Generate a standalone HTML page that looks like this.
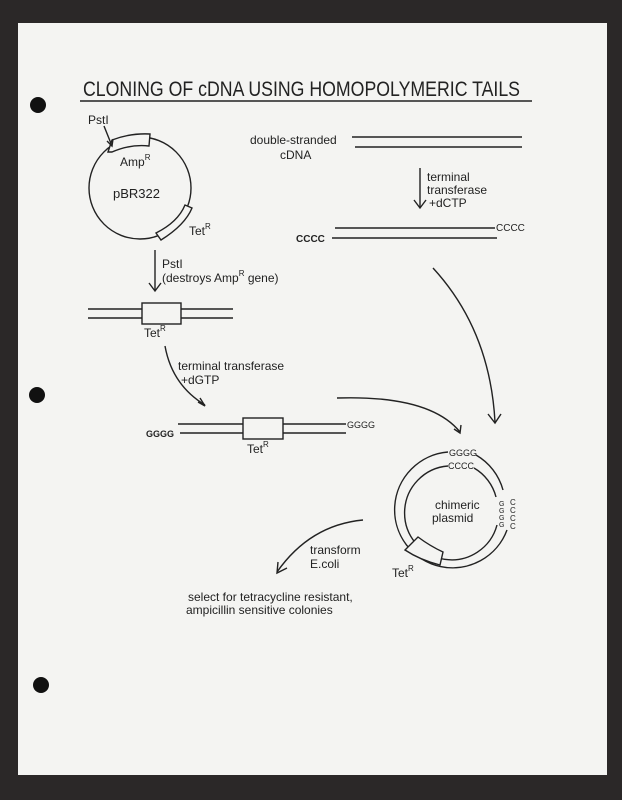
<!DOCTYPE html>
<html><head><meta charset="utf-8"><style>
html,body{margin:0;padding:0;background:#2b2828;}
svg{display:block}
text{font-family:"Liberation Sans",sans-serif;fill:#222;}
</style></head><body>
<svg width="622" height="800" viewBox="0 0 622 800" xmlns="http://www.w3.org/2000/svg">
<rect x="0" y="0" width="622" height="800" fill="#2b2828"/>
<rect x="18" y="23" width="589" height="752" fill="#f4f4f2"/>
<circle cx="38" cy="105" r="8" fill="#111"/>
<circle cx="37" cy="395" r="8" fill="#111"/>
<circle cx="41" cy="685" r="8" fill="#111"/>
<g stroke="#222" fill="none" stroke-width="1.4">
<text x="83" y="96" font-size="21" textLength="437" lengthAdjust="spacingAndGlyphs" stroke="none" style="font-weight:300">CLONING OF cDNA USING HOMOPOLYMERIC TAILS</text>
<line x1="80" y1="101" x2="532" y2="101"/>
<!-- pBR322 -->
<ellipse cx="140" cy="188" rx="51" ry="51"/>
<path d="M108,152 L112,140 Q130,133 150,134 L149,146 Q130,144 112,152 Z" fill="#f4f4f2"/>
<path d="M156,233 L161,240 Q185,225 192,208 L185,205 Q178,222 156,233 Z" fill="#f4f4f2"/>
<line x1="104" y1="126" x2="112" y2="146"/>
<path d="M107,141 L112,146 L113,139"/>
<!-- cDNA -->
<line x1="352" y1="137" x2="522" y2="137"/>
<line x1="355" y1="147" x2="522" y2="147"/>
<line x1="420" y1="168" x2="420" y2="207"/>
<path d="M414,200 L420,208 L426,200"/>
<line x1="335" y1="228" x2="495" y2="228"/>
<line x1="332" y1="238" x2="497" y2="238"/>
<path d="M433,268 Q490,330 495,422"/>
<path d="M488,414 L495,423 L501,414"/>
<!-- PstI arrow -->
<line x1="155" y1="250" x2="155" y2="290"/>
<path d="M149,283 L155,291 L161,283"/>
<line x1="88" y1="309" x2="233" y2="309"/>
<line x1="88" y1="318" x2="233" y2="318"/>
<rect x="142" y="303" width="39" height="21" fill="#f4f4f2"/>
<path d="M165,346 Q172,385 205,405"/>
<path d="M198,402 L205,406 L200,398"/>
<line x1="178" y1="424" x2="346" y2="424"/>
<line x1="180" y1="433" x2="346" y2="433"/>
<rect x="243" y="418" width="40" height="21" fill="#f4f4f2"/>
<path d="M337,398 Q430,395 460,432"/>
<path d="M454,429 L460,433 L461,425"/>
<!-- chimeric -->
<path d="M448,452 A58,58 0 1 0 507,530 M503,490 A58,58 0 0 0 476,455"/>
<path d="M448,466 A47,47 0 1 0 497,525 M496,497 A47,47 0 0 0 474,468"/>
<path d="M405,550 L418,537 Q430,546 443,552 L440,565 Q420,560 405,550 Z" fill="#f4f4f2"/>
<path d="M363,520 Q310,525 277,572"/>
<path d="M278,562 L277,573 L287,568"/>
</g>
<g font-size="12">
<text x="88" y="124">PstI</text>
<text x="120" y="166">Amp<tspan font-size="8" dy="-6">R</tspan></text>
<text x="113" y="198" font-size="13">pBR322</text>
<text x="189" y="235">Tet<tspan font-size="8" dy="-6">R</tspan></text>
<text x="250" y="144">double-stranded</text>
<text x="280" y="159">cDNA</text>
<text x="427" y="181">terminal</text>
<text x="427" y="194">transferase</text>
<text x="429" y="207">+dCTP</text>
<text x="496" y="231" font-size="10">CCCC</text>
<text x="296" y="242" font-size="10" font-weight="bold">CCCC</text>
<text x="162" y="268">PstI</text>
<text x="162" y="282">(destroys Amp<tspan font-size="8" dy="-6">R</tspan><tspan dy="6"> gene)</tspan></text>
<text x="144" y="337">Tet<tspan font-size="8" dy="-6">R</tspan></text>
<text x="178" y="370">terminal transferase</text>
<text x="181" y="384">+dGTP</text>
<text x="146" y="437" font-size="9" font-weight="bold">GGGG</text>
<text x="347" y="428" font-size="9">GGGG</text>
<text x="247" y="453">Tet<tspan font-size="8" dy="-6">R</tspan></text>
<text x="449" y="456" font-size="9">GGGG</text>
<text x="448" y="469" font-size="9">CCCC</text>
<text x="435" y="509">chimeric</text>
<text x="432" y="522">plasmid</text>
<text x="499" y="506" font-size="7">G</text><text x="499" y="513" font-size="7">G</text><text x="499" y="520" font-size="7">G</text><text x="499" y="527" font-size="7">G</text>
<text x="510" y="505" font-size="8">C</text><text x="510" y="513" font-size="8">C</text><text x="510" y="521" font-size="8">C</text><text x="510" y="529" font-size="8">C</text>
<text x="392" y="577">Tet<tspan font-size="8" dy="-6">R</tspan></text>
<text x="310" y="554">transform</text>
<text x="310" y="568">E.coli</text>
<text x="188" y="601">select for tetracycline resistant,</text>
<text x="186" y="614">ampicillin sensitive colonies</text>
</g>
</svg>
</body></html>
